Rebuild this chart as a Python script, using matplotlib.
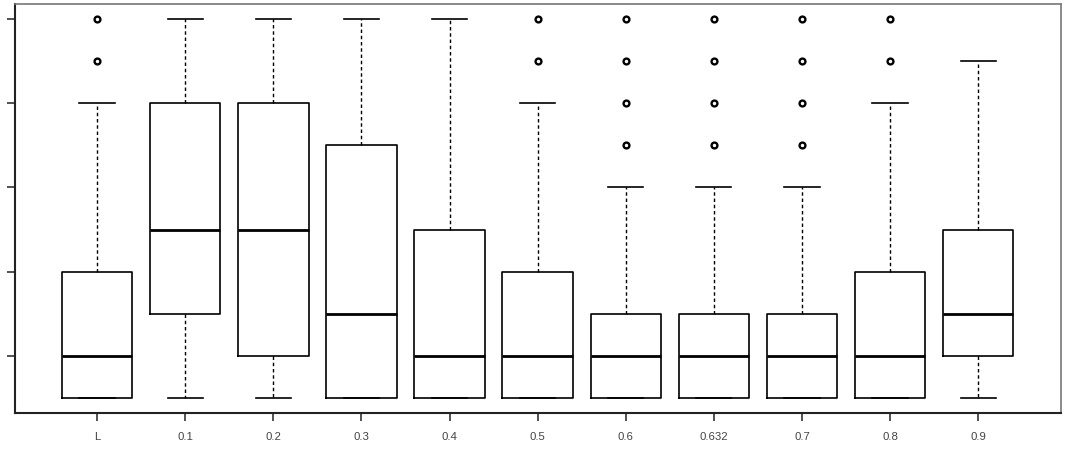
import matplotlib
matplotlib.use("Agg")
import matplotlib.pyplot as plt

labels = ["L", "0.1", "0.2", "0.3", "0.4", "0.5", "0.6", "0.632", "0.7", "0.8", "0.9"]
whislo = [1, 1, 1, 1, 1, 1, 1, 1, 1, 1, 1]
q1 = [1, 3, 2, 1, 1, 1, 1, 1, 1, 1, 2]
med = [2, 5, 5, 3, 2, 2, 2, 2, 2, 2, 3]
q3 = [4, 8, 8, 7, 5, 4, 3, 3, 3, 4, 5]
whishi = [8, 10, 10, 10, 10, 8, 6, 6, 6, 8, 9]
fliers = [[9, 10], [], [], [], [], [9, 10], [7, 8, 9, 10], [7, 8, 9, 10], [7, 8, 9, 10], [9, 10], []]
yticks = [2, 4, 6, 8, 10]

stats = []
for i in range(len(labels)):
    stats.append(dict(label=labels[i], whislo=whislo[i], q1=q1[i], med=med[i],
                      q3=q3[i], whishi=whishi[i], fliers=fliers[i]))

fig = plt.figure(figsize=(10.69, 4.5), dpi=100)
ax = fig.add_axes([15 / 1069, 37 / 450, (1061 - 15) / 1069, (413 - 4) / 450])

ax.bxp(stats, positions=range(1, len(labels) + 1), widths=0.8,
       boxprops=dict(color="black", linewidth=1.2),
       medianprops=dict(color="black", linewidth=2.0),
       whiskerprops=dict(color="black", linewidth=1.0, linestyle=(0, (2.5, 2))),
       capprops=dict(color="black", linewidth=1.2),
       flierprops=dict(marker="o", markerfacecolor="none", markeredgecolor="black",
                       markersize=4.2, markeredgewidth=1.7),
       capwidths=0.4)

ax.set_xlim(0.068, 11.94)
ax.set_ylim(0.64, 10.36)
ax.set_yticks(yticks)
ax.set_yticklabels([])
ax.set_xticks(range(1, len(labels) + 1))
ax.set_xticklabels(labels, fontsize=8.2, color="#444444", family=["Liberation Sans", "DejaVu Sans"])
ax.tick_params(axis="both", direction="out", length=6, width=1.2, color="#333333", pad=8)

for s in ["left", "bottom"]:
    ax.spines[s].set_color("#222222")
    ax.spines[s].set_linewidth(1.5)
for s in ["top", "right"]:
    ax.spines[s].set_color("#777777")
    ax.spines[s].set_linewidth(1.2)

fig.savefig("out.png", dpi=100)
